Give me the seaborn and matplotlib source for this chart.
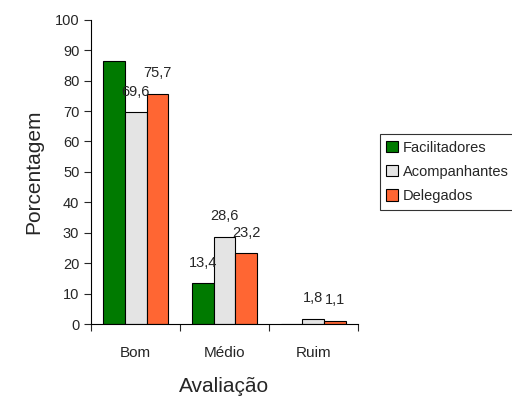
import pandas as pd
import seaborn as sns
import matplotlib.pyplot as plt

# data
categorias = ['Bom', 'Médio', 'Ruim']
grupos = ['Facilitadores', 'Acompanhantes', 'Delegados']
facilitadores = [86.6, 13.4, 0.0]
acompanhantes = [69.6, 28.6, 1.8]
delegados = [75.7, 23.2, 1.1]
# the original shows no label on the tall green bar
rotulos = {
    'Facilitadores': [None, '13,4', None],
    'Acompanhantes': ['69,6', '28,6', '1,8'],
    'Delegados': ['75,7', '23,2', '1,1'],
}
cores = ['#007A00', '#E4E4E4', '#FF6633']

df = pd.DataFrame({
    'Avaliação': categorias * 3,
    'Grupo': [g for g in grupos for _ in categorias],
    'Porcentagem': facilitadores + acompanhantes + delegados,
})

sns.set_style('white')
plt.rcParams['font.family'] = ['Liberation Sans', 'DejaVu Sans']

fig = plt.figure(figsize=(5.12, 4.04), dpi=100)
ax = fig.add_axes([0.178, 0.198, 0.521, 0.753])

sns.barplot(data=df, x='Avaliação', y='Porcentagem', hue='Grupo',
            hue_order=grupos, order=categorias, palette=cores,
            width=0.74, edgecolor='black', linewidth=0.8,
            saturation=1, ax=ax)

# value labels above the bars
for cont, g in zip(ax.containers, grupos):
    for barra, txt in zip(cont, rotulos[g]):
        if txt is None:
            continue
        x = barra.get_x() + barra.get_width() / 2
        ax.text(x, barra.get_height() + 4.5, txt, ha='center', va='bottom',
                fontsize=10.5)

ax.set_ylim(0, 100)
ax.set_yticks(range(0, 101, 10))
ax.set_xlim(-0.5, 2.5)
ax.set_xticks([0, 1, 2])
ax.set_xticklabels(categorias, fontsize=11)
ax.set_xticks([-0.5, 0.5, 1.5, 2.5], minor=True)
ax.tick_params(axis='x', which='major', length=0, pad=16)
ax.tick_params(axis='x', which='minor', length=5, width=0.8, direction='out', bottom=True)
ax.tick_params(axis='y', length=5, width=0.8, direction='out', left=True, labelsize=10.5)

for s in ['top', 'right']:
    ax.spines[s].set_visible(False)
for s in ['left', 'bottom']:
    ax.spines[s].set_color('black')
    ax.spines[s].set_linewidth(0.8)

ax.set_xlabel('Avaliação', fontsize=15, labelpad=12)
ax.set_ylabel('Porcentagem', fontsize=15, labelpad=8)

ax.legend(loc='upper left', bbox_to_anchor=(0.742, 0.668),
          bbox_transform=fig.transFigure, frameon=True, fancybox=False,
          edgecolor='black', fontsize=10.5, handlelength=0.8, handleheight=0.8,
          handletextpad=0.3, borderpad=0.45, labelspacing=0.7, borderaxespad=0)
ax.get_legend().get_frame().set_linewidth(0.8)

fig.savefig('out.png', dpi=100)
